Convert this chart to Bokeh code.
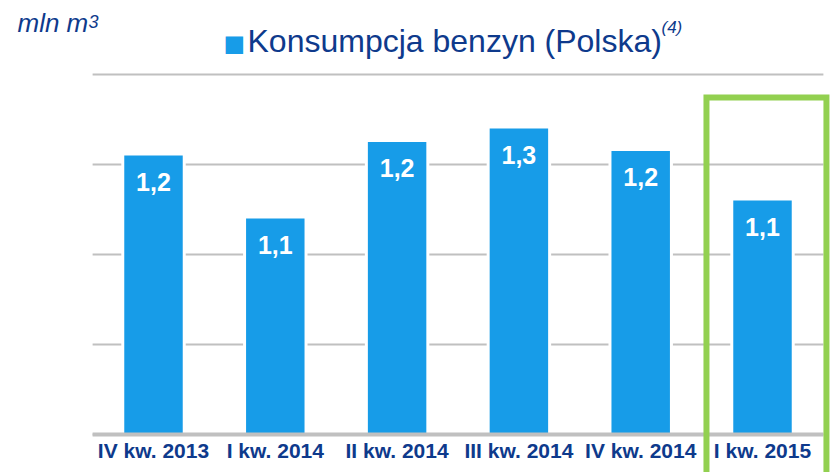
from bokeh.plotting import figure
from bokeh.models import Range1d, Label, ColumnDataSource
from bokeh.core.properties import value
from bokeh.embed import file_html
from bokeh.resources import INLINE

# ---- data ----
categories = ["IV kw. 2013", "I kw. 2014", "II kw. 2014", "III kw. 2014", "IV kw. 2014", "I kw. 2015"]
consumption = [1.22, 1.08, 1.25, 1.28, 1.23, 1.12]
value_labels = ["1,2", "1,1", "1,2", "1,3", "1,2", "1,1"]
y_ticks = [0.6, 0.8, 1.0, 1.2, 1.4]
highlight_index = 5
series_name = "Konsumpcja benzyn (Polska)"
unit_label = "mln m"
unit_sup = "3"
footnote = "(4)"

NAVY = "#0E3A8C"
BLUE = "#179CE8"
GREEN = "#92D050"
GRID = "#C0C0C0"
FONT = "Liberation Sans"

W, H = 831, 472
PX_PER_CAT = 121.8
PX_PER_UNIT = 450.0
X0_PX = 153.0      # pixel of first category centre
BASE_PX = 434.0    # pixel of axis start value
x_start = -X0_PX / PX_PER_CAT
x_end = x_start + W / PX_PER_CAT
y_start = y_ticks[0] - (H - BASE_PX) / PX_PER_UNIT
y_end = y_ticks[0] + BASE_PX / PX_PER_UNIT


def px_x(px):
    return x_start + px / PX_PER_CAT


def px_y(py):
    return y_end - py / PX_PER_UNIT


xs = list(range(len(categories)))
src = ColumnDataSource(dict(x=xs, top=consumption, lab=value_labels, cat=categories,
                            base=[y_ticks[0]] * len(xs)))

p = figure(width=W, height=H, output_backend="svg", toolbar_location=None,
           x_axis_type=None, y_axis_type=None,
           x_range=Range1d(x_start, x_end), y_range=Range1d(y_start, y_end),
           min_border_left=0, min_border_right=0, min_border_top=0, min_border_bottom=0)
p.outline_line_color = None
p.background_fill_color = "white"
p.border_fill_color = "white"

# horizontal grid lines across the category span
n = len(categories)
p.segment(x0=[-0.5] * len(y_ticks), x1=[n - 0.5] * len(y_ticks), y0=y_ticks, y1=y_ticks,
          line_color=GRID, line_width=2)

# white halo around bars, then bars
p.vbar(x="x", top="top", bottom="base", width=0.48, source=src,
       fill_color="white", line_color="white", line_width=6)
p.vbar(x="x", top="top", bottom="base", width=0.48, source=src,
       fill_color=BLUE, line_color=None)

# baseline
p.segment(x0=[-0.5], x1=[n - 0.5], y0=[y_ticks[0]], y1=[y_ticks[0]],
          line_color=GRID, line_width=4)

# value labels inside bars
p.text(x="x", y="top", text="lab", source=src, text_align="center",
       text_baseline="alphabetic", y_offset=26, text_color="white",
       text_font=value(FONT), text_font_style="bold", text_font_size="25px")

# category labels
p.text(x="x", y="base", text="cat", source=src, text_align="center",
       text_baseline="alphabetic", y_offset=16, text_color=NAVY,
       text_font=value(FONT), text_font_style="bold", text_font_size="21px")

# highlight box around last quarter
p.quad(left=[highlight_index - 0.46], right=[highlight_index + 0.525],
       top=[1.349], bottom=[y_start - 0.1], fill_color=None, line_color=GREEN,
       line_width=6, line_join="miter")

# titles
p.add_layout(Label(x=px_x(17), y=px_y(22), text=unit_label,
                   text_font=FONT, text_font_style="italic", text_font_size="26px",
                   text_color=NAVY, text_baseline="alphabetic"))
p.add_layout(Label(x=px_x(88), y=px_y(21), text=unit_sup,
                   text_font=FONT, text_font_style="italic", text_font_size="18px",
                   text_color=NAVY, text_baseline="alphabetic"))
p.add_layout(Label(x=px_x(223), y=px_y(43), text="■",
                   text_font=FONT, text_font_size="36px",
                   text_color=BLUE, text_baseline="alphabetic"))
p.add_layout(Label(x=px_x(247), y=px_y(40), text=series_name,
                   text_font=FONT, text_font_size="32px",
                   text_color=NAVY, text_baseline="alphabetic"))
p.add_layout(Label(x=px_x(661), y=px_y(27), text=footnote,
                   text_font=FONT, text_font_style="italic", text_font_size="17px",
                   text_color=NAVY, text_baseline="alphabetic"))

open("out.html", "w").write(file_html(p, INLINE))
